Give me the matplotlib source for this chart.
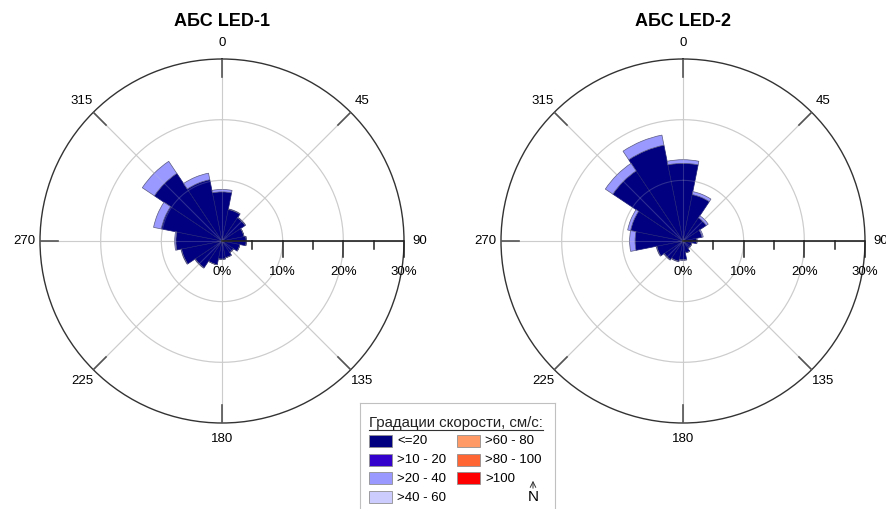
import numpy as np
import matplotlib
matplotlib.use('Agg')
import matplotlib.pyplot as plt
from matplotlib.patches import Rectangle

plt.rcParams['font.family'] = ['Liberation Sans', 'DejaVu Sans']

# ---- Data (percent of observations per direction sector) ----
directions = [0, 22.5, 45, 67.5, 90, 112.5, 135, 157.5,
              180, 202.5, 225, 247.5, 270, 292.5, 315, 337.5]

led1_le20 = [8.1, 5.3, 4.6, 3.7, 4.0, 3.0, 2.3, 2.8,
             3.0, 4.0, 5.3, 6.8, 7.6, 10.2, 13.4, 10.3]
led1_20_40 = [0.4, 0.1, 0.1, 0.0, 0.0, 0.0, 0.0, 0.0,
              0.0, 0.0, 0.1, 0.1, 0.2, 1.3, 2.4, 1.1]

led2_le20 = [12.8, 7.8, 4.6, 3.2, 2.3, 1.5, 1.5, 2.0,
             3.1, 3.4, 3.7, 4.4, 7.9, 8.8, 13.9, 16.1]
led2_20_40 = [0.6, 0.5, 0.4, 0.2, 0.0, 0.0, 0.0, 0.0,
              0.1, 0.1, 0.1, 0.1, 0.9, 0.5, 1.5, 1.7]

titles = ['АБС LED-1', 'АБС LED-2']
theta_ticks = [0, 45, 90, 135, 180, 225, 270, 315]
r_major = [10, 20, 30]
r_minor = [5, 15, 25]
r_labels = ['0%', '10%', '20%', '30%']

class_labels = ['<=20', '>10 - 20', '>20 - 40', '>40 - 60',
                '>60 - 80', '>80 - 100', '>100']
class_colors = ['#000080', '#3300cc', '#9999ff', '#ccccff',
                '#ff9966', '#ff6633', '#ff0000']
legend_title = 'Градации скорости, см/с:'

W, H = 887, 509
fig = plt.figure(figsize=(W / 100, H / 100), dpi=100)

RPX = 182  # outer radius in pixels
RMAX = 30


def px2r(p):
    return p / RPX * RMAX


def rose(cx, cy, low, mid, title):
    ax = fig.add_axes([(cx - RPX) / W, (H - cy - RPX) / H, 2 * RPX / W, 2 * RPX / H],
                      projection='polar')
    ax.set_theta_zero_location('N')
    ax.set_theta_direction(-1)
    th = np.deg2rad(directions)
    w = np.deg2rad(22.5)
    ax.bar(th, low, width=w, color=class_colors[0], edgecolor='#1e1e78',
           linewidth=0.5, zorder=2)
    ax.bar(th, mid, width=w, bottom=low, color=class_colors[2], edgecolor='#5a5a80',
           linewidth=0.5, zorder=2)
    ax.set_ylim(0, RMAX)
    ax.grid(False)
    ax.set_xticks([])
    ax.set_yticks([])
    ax.spines['polar'].set_color('#333333')
    ax.spines['polar'].set_linewidth(1.0)

    # grid circles and spokes: normal under the bars, faint over them
    t = np.linspace(0, 2 * np.pi, 361)
    for z, al in [(1, 1.0), (3, 0.22)]:
        for r in r_major[:-1]:
            ax.plot(t, np.full_like(t, r), color='#cccccc', lw=0.8, alpha=al, zorder=z)
        for a in theta_ticks:
            ta = np.deg2rad(a)
            ax.plot([ta, ta], [0, RMAX], color='#cccccc', lw=0.8, alpha=al, zorder=z)
    for a in theta_ticks:
        ta = np.deg2rad(a)
        if a != 90:
            ax.plot([ta, ta], [RMAX - px2r(18), RMAX], color='#555555', lw=1.2, zorder=4)
        ax.text(ta, px2r(198), str(a), ha='center', va='center', fontsize=9.5)

    # radial axis along 90
    ax.plot([np.pi / 2] * 2, [0, RMAX], color='#222222', lw=1.2, zorder=5)
    for v, L in [(v, 16) for v in r_major] + [(v, 8) for v in r_minor]:
        d = px2r(L)
        ax.plot([np.pi / 2, np.arctan2(v, -d)], [v, np.hypot(v, d)],
                color='#222222', lw=1.1, zorder=5, clip_on=False)
    for v, lab in zip([0] + r_major, r_labels):
        ax.annotate(lab, xy=(np.pi / 2, v), xytext=(0, -31), textcoords='offset pixels',
                    ha='center', va='center', fontsize=9.5, annotation_clip=False)

    fig.text(cx / W, 1 - 22 / H, title, ha='center', va='center',
             fontsize=13, fontweight='bold')
    return ax


rose(222, 241, led1_le20, led1_20_40, titles[0])
rose(683, 241, led2_le20, led2_20_40, titles[1])

# ---- Legend box ----
lax = fig.add_axes([360 / W, 0, 195 / W, 106 / H])
lax.set_xlim(0, 195)
lax.set_ylim(106, 0)
lax.set_xticks([])
lax.set_yticks([])
for s in lax.spines.values():
    s.set_color('#c0c0c0')
lax.spines['bottom'].set_visible(False)

tt = lax.text(9, 24, legend_title, ha='left', va='baseline', fontsize=10.8, color='#222222')
fig.canvas.draw()
bb = tt.get_window_extent(renderer=fig.canvas.get_renderer())
x_end = lax.transData.inverted().transform((bb.x1, bb.y0))[0]
lax.plot([9, x_end], [26.5, 26.5], color='#333333', lw=0.8)

for i, (lab, col) in enumerate(zip(class_labels, class_colors)):
    c, r = (0, i) if i < 4 else (1, i - 4)
    x0 = 9 + c * 88
    y0 = 32 + r * 18.7
    lax.add_patch(Rectangle((x0, y0), 23, 12, facecolor=col, edgecolor='#909090', lw=0.6))
    lax.text(x0 + 28, y0 + 6.5, lab, ha='left', va='center', fontsize=9.5)

# north arrow
lax.annotate('', xy=(173, 75), xytext=(173, 88),
             arrowprops=dict(arrowstyle='->', lw=0.7, color='#333333'))
lax.text(173, 94, 'N', ha='center', va='center', fontsize=11)

fig.savefig('out.png', dpi=100)
